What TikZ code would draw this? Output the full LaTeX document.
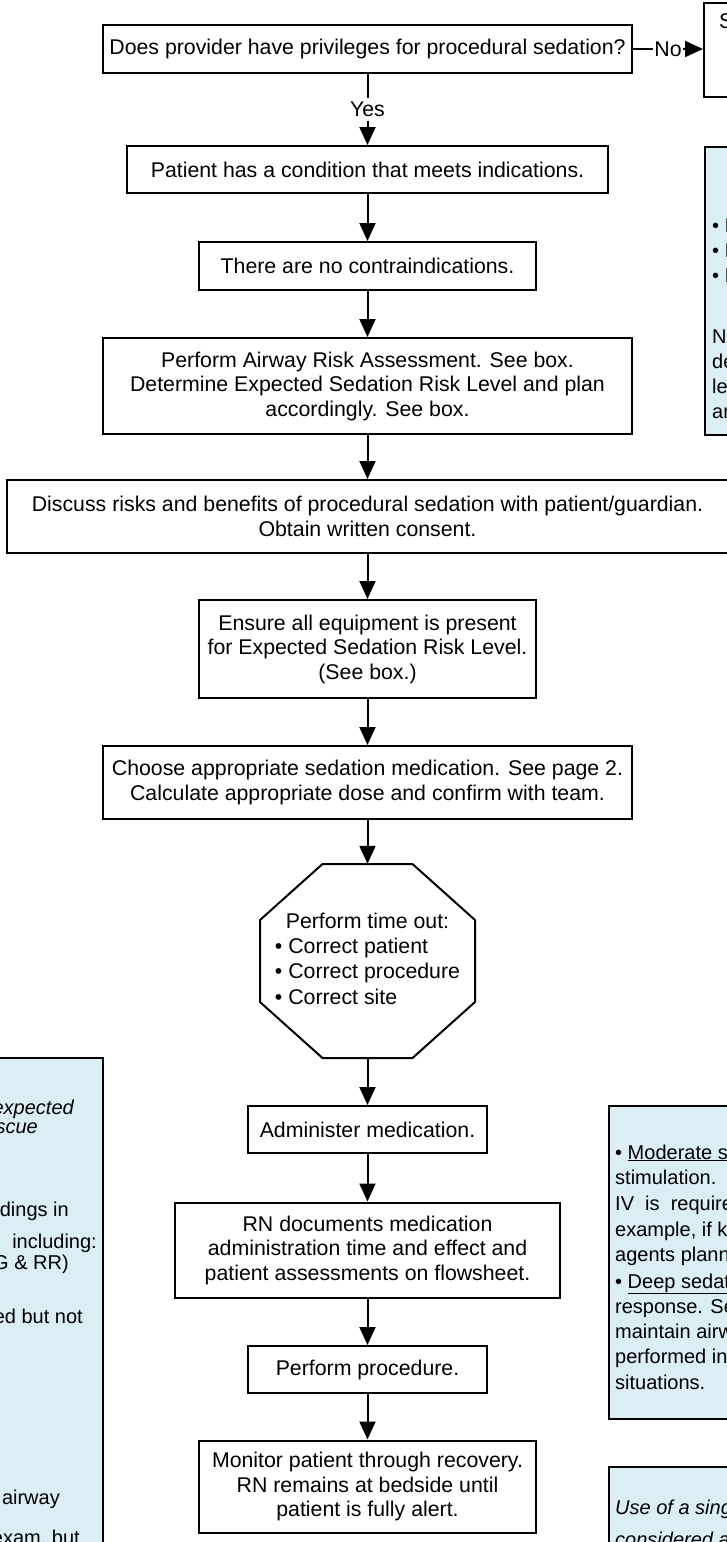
\documentclass[tikz,border=0pt]{standalone}
\usepackage{fontspec}
\setmainfont{Liberation Sans}
\usetikzlibrary{arrows.meta}
\definecolor{bluebox}{RGB}{219,238,244}
\newcommand{\mainsize}{\fontsize{21.3}{24.5}\selectfont}
\newcommand{\octsize}{\fontsize{21.3}{25.3}\selectfont}
\newcommand{\notesize}{\fontsize{20}{25}\selectfont}
\begin{document}
\begin{tikzpicture}[x=1pt,y=-1pt,
  flowbox/.style={draw, line width=2pt, fill=white, align=center, inner sep=0pt, font=\mainsize},
  notebox/.style={draw, line width=2pt, fill=bluebox, inner sep=0pt},
  notetext/.style={inner sep=0pt, font=\notesize},
  lbl/.style={fill=white, inner xsep=1pt, inner ysep=4pt, font=\mainsize},
  arr/.style={line width=2pt, -{Triangle[length=18pt,width=16pt]}},
]
\useasboundingbox (0,0) rectangle (727,1542);
\clip (0,0) rectangle (727,1542);

% flow boxes
\node[flowbox, minimum width=529, minimum height=48] (A) at (367.5,49) {Does provider have privileges for procedural sedation?};
\node[flowbox, minimum width=120, minimum height=94, anchor=north west] (B) at (703,2) {};
\node[inner sep=0pt, font=\mainsize, anchor=base west] (Bs) at (719,28) {S};
\node[flowbox, minimum width=481, minimum height=47] (C) at (367.5,169.5) {Patient has a condition that meets indications.};
\node[flowbox, minimum width=337, minimum height=48] (D) at (367.5,266) {There are no contraindications.};
\node[flowbox, minimum width=529, minimum height=96] (E) at (367.5,386) {Perform Airway Risk Assessment. See box.\\Determine Expected Sedation Risk Level and plan\\accordingly. See box.};
\node[flowbox, minimum width=721, minimum height=73] (F) at (367.5,516.5) {Discuss risks and benefits of procedural sedation with patient/guardian.\\Obtain written consent.};
\node[flowbox, minimum width=337, minimum height=98] (G) at (367.5,649) {Ensure all equipment is present\\for Expected Sedation Risk Level.\\(See box.)};
\node[flowbox, minimum width=529, minimum height=73] (H) at (367.5,782.5) {Choose appropriate sedation medication. See page 2.\\Calculate appropriate dose and confirm with team.};

% octagon
\draw[line width=2pt, fill=white] (322.5,864) -- (412.5,864) -- (475,920) -- (475,1002) -- (412.5,1058) -- (322.5,1058) -- (260,1002) -- (260,920) -- cycle;
\node[inner sep=0pt, minimum width=215, minimum height=194, font=\octsize] (T) at (367.5,961)
  {\begin{tabular}{@{}l@{}}\multicolumn{1}{@{}c@{}}{Perform time out:}\\ • Correct patient\\ • Correct procedure\\ • Correct site\end{tabular}};

\node[flowbox, minimum width=239, minimum height=47] (I) at (367.5,1129.5) {Administer medication.};
\node[flowbox, minimum width=385, minimum height=95] (J) at (367.5,1250) {RN documents medication\\administration time and effect and\\patient assessments on flowsheet.};
\node[flowbox, minimum width=239, minimum height=47] (K) at (367.5,1369.5) {Perform procedure.};
\node[flowbox, minimum width=337, minimum height=92] (L) at (367.5,1486.5) {Monitor patient through recovery.\\RN remains at bedside until\\patient is fully alert.};

% connectors
\draw[arr] (A.east) -- node[lbl] {No} (A.east -| B.west);
\draw[arr] (A.south) -- node[lbl] {Yes} (C.north);
\draw[arr] (C.south) -- (D.north);
\draw[arr] (D.south) -- (E.north);
\draw[arr] (E.south) -- (F.north);
\draw[arr] (F.south) -- (G.north);
\draw[arr] (G.south) -- (H.north);
\draw[arr] (H.south) -- (T.north);
\draw[arr] (T.south) -- (I.north);
\draw[arr] (I.south) -- (J.north);
\draw[arr] (J.south) -- (K.north);
\draw[arr] (K.south) -- (L.north);

% upper right note box
\node[notebox, minimum width=80, minimum height=288, anchor=north west] (P) at (704,146) {};
\node[notetext, anchor=base west] (p1) at (712,232) {• I};
\node[notetext, anchor=base west] (p2) at (712,257) {• I};
\node[notetext, anchor=base west] (p3) at (712,282) {• I};
\node[notetext, anchor=base west] (p4) at (712,343) {No};
\node[notetext, anchor=base west] (p5) at (712,368) {de};
\node[notetext, anchor=base west] (p6) at (712,393) {le};
\node[notetext, anchor=base west] (p7) at (712,418) {an};

% left note box
\node[notebox, minimum width=150, minimum height=520, anchor=north east] (M) at (104,1057) {};
\node[notetext, anchor=base east, font=\notesize\itshape] (m1) at (74,1114) {expected};
\node[notetext, anchor=base east, font=\notesize\itshape] (m2) at (38,1133) {rescue};
\node[notetext, anchor=base east] (m3) at (69,1216) {findings in};
\node[notetext, anchor=base east] (m4) at (97,1248) {including:};
\node[notetext, anchor=base east] (m5) at (69,1269) {(ECG \& RR)};
\node[notetext, anchor=base east] (m6) at (83,1323) {ed but not};
\node[notetext, anchor=base east] (m7) at (60,1504) {airway};
\node[notetext, anchor=base east] (m8) at (80,1544) {exam, but};

% lower right note box
\node[notebox, minimum width=150, minimum height=313, anchor=north west] (N) at (608,1105) {};
\node[notetext, anchor=base west] (n1) at (615,1159) {• \underline{Moderate sedation}};
\node[notetext, anchor=base west] (n2) at (615,1184) {stimulation.};
\node[notetext, anchor=base west] (n3) at (615,1210) {IV\ \ is\ \ required};
\node[notetext, anchor=base west] (n4) at (615,1236) {example, if ke};
\node[notetext, anchor=base west] (n5) at (615,1261) {agents planned};
\node[notetext, anchor=base west] (n6) at (615,1288) {• \underline{Deep sedation}};
\node[notetext, anchor=base west] (n7) at (615,1313) {response. Se};
\node[notetext, anchor=base west] (n8) at (615,1338) {maintain airway};
\node[notetext, anchor=base west] (n9) at (615,1363) {performed in};
\node[notetext, anchor=base west] (n10) at (615,1389) {situations.};

% bottom right note box
\node[notebox, minimum width=150, minimum height=120, anchor=north west] (O) at (608,1466) {};
\node[notetext, anchor=base west, font=\notesize\itshape] (o1) at (615,1514) {Use of a single};
\node[notetext, anchor=base west, font=\notesize\itshape] (o2) at (615,1546) {considered a};
\end{tikzpicture}
\end{document}
